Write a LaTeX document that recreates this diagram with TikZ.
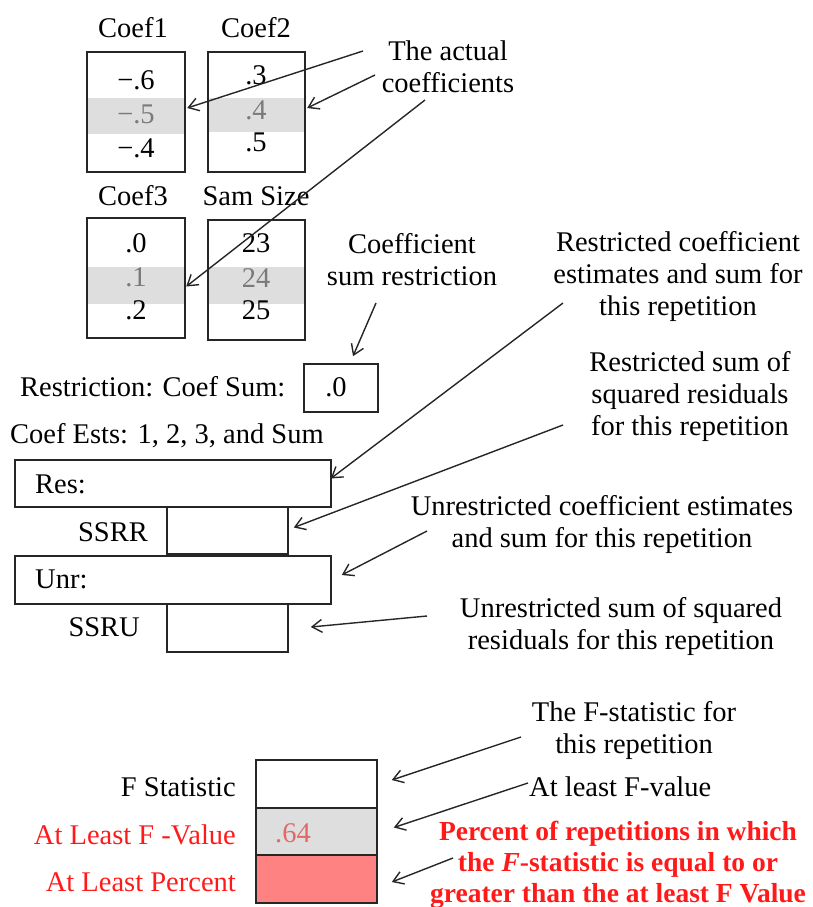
\documentclass[tikz,border=0pt]{standalone}
\usepackage{fontspec}
\setmainfont{Liberation Serif}
\usetikzlibrary{arrows.meta}
\definecolor{bandgrey}{HTML}{DEDEDE}
\definecolor{valgrey}{HTML}{7A7A7A}
\definecolor{hired}{HTML}{FF1A1A}
\definecolor{pinkfill}{HTML}{FF8282}
\definecolor{pinktext}{HTML}{E06A6A}
\begin{document}
\begin{tikzpicture}[x=1pt,y=-1pt,
  every node/.style={font=\fontsize{28.5}{32}\selectfont, inner sep=0pt},
  box/.style={draw=black!85, line width=1.6pt, fill=none},
  band/.style={fill=bandgrey, draw=none},
  lbl/.style={align=center},
  grey/.style={text=valgrey},
  redlbl/.style={text=hired},
  pointer/.style={line width=1.4pt, draw=black!85, -{Straight Barb[length=10pt,width=13pt,line width=1.4pt]}}
]
\useasboundingbox (0,0) rectangle (812,907);

% ---------- Coef1 / Coef2 ----------
\node[band, minimum width=98pt, minimum height=36pt] (g1) at (136,116) {};
\node[band, minimum width=97pt, minimum height=34pt] (g2) at (256.5,115) {};
\node[box, minimum width=98pt, minimum height=120pt] (c1) at (136,112) {};
\node[box, minimum width=97pt, minimum height=120pt] (c2) at (256.5,112) {};
\node (t1) at (133,28) {Coef1};
\node (t2) at (256,28) {Coef2};
\node (v11) at (136,80) {−.6};
\node[grey] (v12) at (136,114) {−.5};
\node (v13) at (136,148) {−.4};
\node (v21) at (256,75) {.3};
\node[grey] (v22) at (256,110) {.4};
\node (v23) at (256,142) {.5};

% ---------- Coef3 / Sam Size ----------
\node[band, minimum width=98pt, minimum height=37pt] (g3) at (136,285.5) {};
\node[band, minimum width=97pt, minimum height=37pt] (g4) at (256.5,285.5) {};
\node[box, minimum width=98pt, minimum height=120pt] (c3) at (136,278) {};
\node[box, minimum width=97pt, minimum height=120pt] (c4) at (256.5,280) {};
\node (t3) at (133,196) {Coef3};
\node (t4) at (256,196) {Sam Size};
\node (v31) at (136,243) {.0};
\node[grey] (v32) at (136,277) {.1};
\node (v33) at (136,310) {.2};
\node (v41) at (256,243) {23};
\node[grey] (v42) at (256,278) {24};
\node (v43) at (256,310) {25};

% ---------- restriction ----------
\node[anchor=west] (rl) at (20,387) {Restriction: Coef Sum:};
\node[box, minimum width=74pt, minimum height=48pt] (r0) at (341,388) {};
\node (r0v) at (336,387) {.0};
\node[anchor=west] (ce) at (10,436) {Coef Ests: 1, 2, 3, and Sum};

% ---------- estimate boxes ----------
\node[box, minimum width=316pt, minimum height=47pt] (res) at (173,483.5) {};
\node[anchor=west] (resl) at (35,484) {Res:};
\node[box, minimum width=121pt, minimum height=47pt] (ssrr) at (227.5,530.5) {};
\node[anchor=east] (ssrrl) at (148,532) {SSRR};
\node[box, minimum width=316pt, minimum height=48pt] (unr) at (173,580) {};
\node[anchor=west] (unrl) at (35,579) {Unr:};
\node[box, minimum width=121pt, minimum height=48pt] (ssru) at (227.5,628) {};
\node[anchor=east] (ssrul) at (140,627) {SSRU};

% ---------- F boxes ----------
\node[box, minimum width=121pt, minimum height=48pt] (fb) at (316.5,784) {};
\node[box, fill=bandgrey, minimum width=121pt, minimum height=47pt] (ab) at (316.5,831.5) {};
\node[box, fill=pinkfill, minimum width=121pt, minimum height=48pt] (pb) at (316.5,879) {};
\node[text=pinktext] (abv) at (293,833) {.64};
\node[anchor=east] (fl) at (236,787) {F Statistic};
\node[anchor=east, redlbl] (al) at (236,835) {At Least F -Value};
\node[anchor=east, redlbl] (pl) at (236,882) {At Least Percent};

% ---------- annotations ----------
\node[lbl] (n1) at (448,67) {The actual\\coefficients};
\node[lbl] (n2) at (412,260) {Coefficient\\sum restriction};
\node[lbl] (n3) at (678,276) {Restricted coefficient\\estimates and sum for\\this repetition};
\node[lbl] (n4) at (690,396) {Restricted sum of\\squared residuals\\for this repetition};
\node[lbl] (n5) at (602,524) {Unrestricted coefficient estimates\\and sum for this repetition};
\node[lbl] (n6) at (621,626) {Unrestricted sum of squared\\residuals for this repetition};
\node[lbl] (n7) at (634,730) {The F-statistic for\\this repetition};
\node[anchor=west] (n8) at (529,787) {At least F-value};
\node[lbl, text=hired, font=\fontsize{27.5}{31}\selectfont\bfseries] (n9) at (618,865) {Percent of repetitions in which\\the \textit{F}-statistic is equal to or\\greater than the at least F Value};

% ---------- connector start points ----------
\coordinate (s1) at (363,51);
\coordinate (s2) at (375,75);
\coordinate (s3) at (425,100);
\coordinate (s4) at (376,303);
\coordinate (s5) at (563,303);
\coordinate (s6) at (563,425);
\coordinate (s7) at (427,531);
\coordinate (s8) at (427,616);
\coordinate (s9) at (521,737);
\coordinate (s10) at (528,783);
\coordinate (s11) at (453,858);

% ---------- connectors ----------
\draw[pointer] (s1) -- ([xshift=2pt,yshift=8pt]g1.east);
\draw[pointer] (s2) -- ([xshift=2pt,yshift=7pt]g2.east);
\draw[pointer] (s3) -- ([xshift=1pt,yshift=-1pt]g3.east);
\draw[pointer] (s4) -- ([xshift=12pt,yshift=7pt]r0.north);
\draw[pointer] (s5) -- ([xshift=-1pt,yshift=5pt]res.east);
\draw[pointer] (s6) -- ([xshift=5pt,yshift=3pt]ssrr.east);
\draw[pointer] (s7) -- ([xshift=10pt,yshift=5pt]unr.east);
\draw[pointer] (s8) -- ([xshift=22pt,yshift=1pt]ssru.east);
\draw[pointer] (s9) -- ([xshift=14pt,yshift=4pt]fb.east);
\draw[pointer] (s10) -- ([xshift=16pt,yshift=4pt]ab.east);
\draw[pointer] (s11) -- ([xshift=14pt,yshift=-3pt]pb.east);
\end{tikzpicture}
\end{document}
